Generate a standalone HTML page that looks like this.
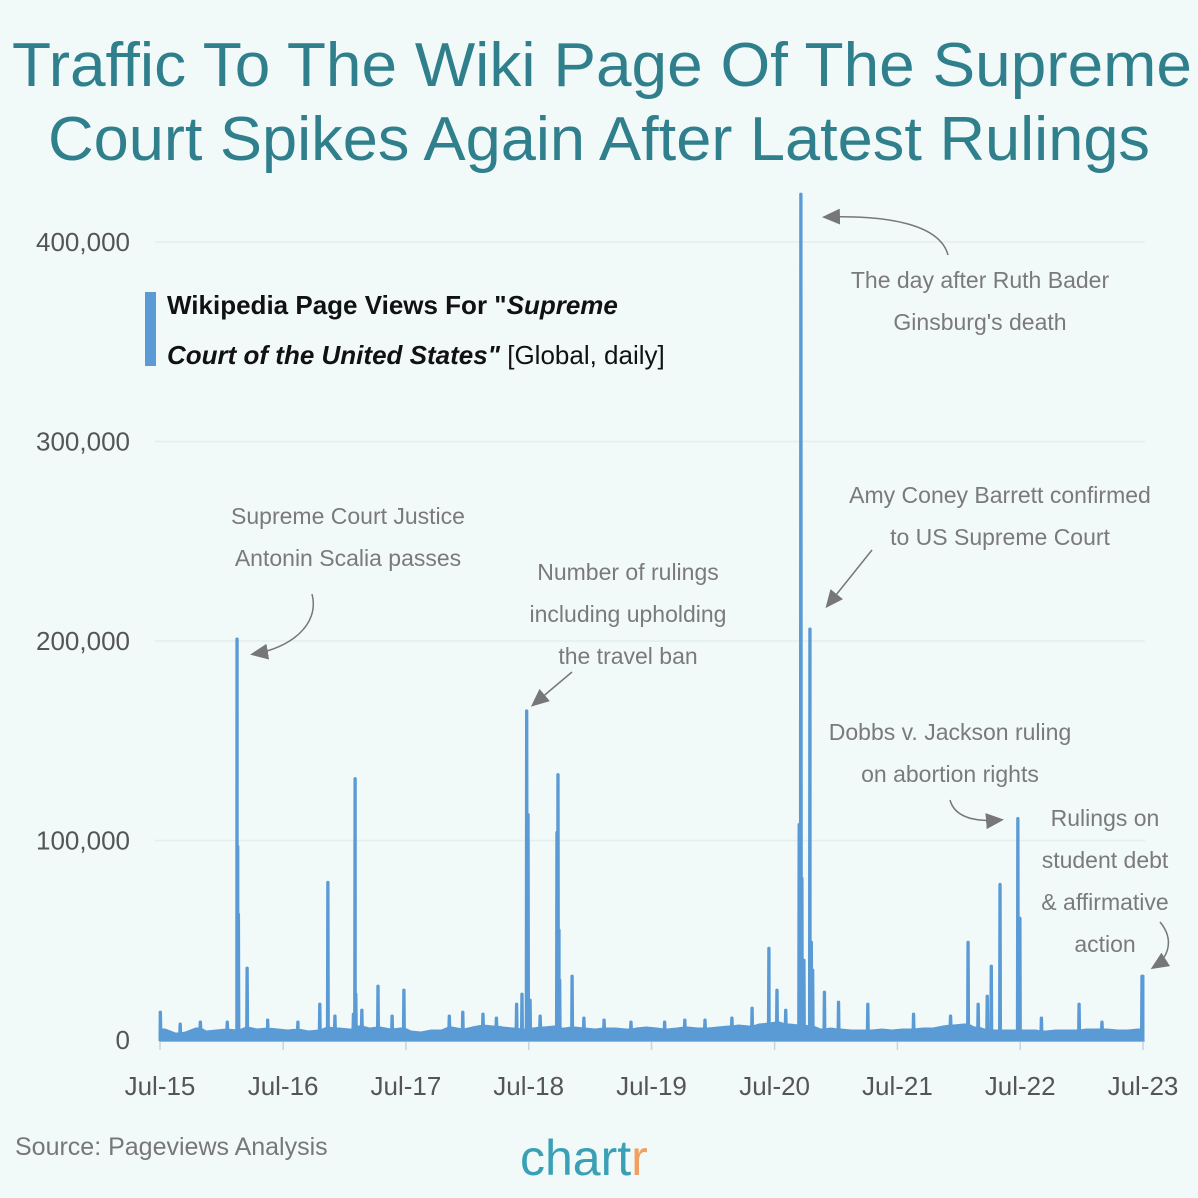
<!DOCTYPE html>
<html><head><meta charset="utf-8"><style>
html,body{margin:0;padding:0;background:#f2faf9;}
svg{display:block;font-family:"Liberation Sans",sans-serif;}
.ann{fill:#7a7a7a;font-size:23px;text-anchor:middle;}
.tick{fill:#555;font-size:26px;}
</style></head><body>
<svg id="chart" width="1198" height="1198" viewBox="0 0 1198 1198" xmlns="http://www.w3.org/2000/svg">
<defs>
<marker id="ah2" markerWidth="18" markerHeight="16" refX="14" refY="8" orient="auto" markerUnits="userSpaceOnUse"><path d="M0,0 L18,8 L0,16 z" fill="#777"/></marker></defs>
<rect x="0" y="0" width="1198" height="1198" fill="#f2faf9"/>
<text x="12" y="86" font-size="62" fill="#2f7f8c" textLength="1180" lengthAdjust="spacingAndGlyphs">Traffic To The Wiki Page Of The Supreme</text>
<text x="48" y="160" font-size="62" fill="#2f7f8c" textLength="1102" lengthAdjust="spacingAndGlyphs">Court Spikes Again After Latest Rulings</text>
<g id="grid"></g>
<g id="yticks"></g>
<g id="xticks"></g>
<g id="series"></g>
<rect x="145" y="292" width="11" height="74" fill="#5b9bd5"/>
<text x="167" y="314" font-size="26" font-weight="bold" fill="#111">Wikipedia Page Views For "<tspan font-style="italic">Supreme</tspan></text>
<text x="167" y="364" font-size="26" fill="#111"><tspan font-weight="bold" font-style="italic">Court of the United States"</tspan> [Global, daily]</text>
<g>
<text class="ann" x="980" y="288">The day after Ruth Bader</text>
<text class="ann" x="980" y="330">Ginsburg's death</text>
<path d="M948,255 C940,225 890,215 826,217" fill="none" stroke="#777" stroke-width="1.5" marker-end="url(#ah2)"/></g>
<g>
<text class="ann" x="348" y="524">Supreme Court Justice</text>
<text class="ann" x="348" y="566">Antonin Scalia passes</text>
<path d="M312,594 C320,625 290,648 254,654" fill="none" stroke="#777" stroke-width="1.5" marker-end="url(#ah2)"/></g>
<g>
<text class="ann" x="628" y="580">Number of rulings</text>
<text class="ann" x="628" y="622">including upholding</text>
<text class="ann" x="628" y="664">the travel ban</text>
<path d="M572,672 L534,704" fill="none" stroke="#777" stroke-width="1.5" marker-end="url(#ah2)"/></g>
<g>
<text class="ann" x="1000" y="503">Amy Coney Barrett confirmed</text>
<text class="ann" x="1000" y="545">to US Supreme Court</text>
<path d="M872,550 L828,605" fill="none" stroke="#777" stroke-width="1.5" marker-end="url(#ah2)"/></g>
<g>
<text class="ann" x="950" y="740">Dobbs v. Jackson ruling</text>
<text class="ann" x="950" y="782">on abortion rights</text>
<path d="M950,800 C955,818 975,822 1000,820" fill="none" stroke="#777" stroke-width="1.5" marker-end="url(#ah2)"/></g>
<g>
<text class="ann" x="1105" y="826">Rulings on</text>
<text class="ann" x="1105" y="868">student debt</text>
<text class="ann" x="1105" y="910">&amp; affirmative</text>
<text class="ann" x="1105" y="952">action</text>
<path d="M1160,922 C1175,940 1168,958 1154,967" fill="none" stroke="#777" stroke-width="1.5" marker-end="url(#ah2)"/></g>
<text x="15" y="1155" font-size="25" fill="#777">Source: Pageviews Analysis</text>
<text x="520" y="1175" font-size="50" fill="#3aa0b5">chart<tspan fill="#f0a060">r</tspan></text>
<script>
const yTicks=[0,100000,200000,300000,400000];
const yTickLabels=["0","100,000","200,000","300,000","400,000"];
const xTickDays=[0,366,731,1096,1461,1827,2192,2557,2922];
const xTickLabels=["Jul-15","Jul-16","Jul-17","Jul-18","Jul-19","Jul-20","Jul-21","Jul-22","Jul-23"];
// monthly baseline (views/day), Jul-15 .. Jul-23
const baselineValues=[5000,3000,3500,5500,4000,4500,5000,4500,6000,5000,5500,5000,4500,5000,4000,4500,6000,5500,5000,6500,5500,6000,5000,5500,4000,3500,4500,4500,6000,5000,6000,7000,6500,6000,5500,5000,5500,6000,6500,5500,6000,5500,5000,5500,5500,5000,5500,6000,5500,5000,5500,6000,5500,5500,6000,6500,7000,6500,7500,8000,8500,7500,7000,6500,5000,5500,5000,4500,4500,4500,5000,4500,5000,5000,5500,5500,6500,7000,7500,6000,5000,4500,4500,4500,4500,4500,4000,4500,4500,4500,5000,5000,5000,4500,4500,5000,5000];
const spikeDays=[1,60,120,200,229,231,233,259,320,410,475,499,520,575,580,582,600,648,690,725,860,900,960,1000,1060,1076,1090,1094,1100,1130,1180,1183,1186,1188,1225,1260,1320,1400,1500,1560,1620,1700,1760,1810,1834,1860,1900,1905,1908,1914,1932,1936,1940,1975,2017,2104,2240,2350,2402,2432,2459,2471,2497,2550,2556,2620,2732,2800,2919];
const spikeValues=[14000,8000,9000,9000,201000,97000,63000,36000,10000,9000,18000,79000,12000,13000,131000,23000,15000,27000,12000,25000,12000,14000,13000,11000,18000,23000,165000,113000,20000,12000,104000,133000,55000,30000,32000,11000,10000,9000,9000,10000,10000,11000,16000,46000,25000,15000,108000,424000,81000,40000,206000,49000,35000,24000,19000,18000,13000,12000,49000,18000,22000,37000,78000,111000,61000,11000,18000,9000,32000];
const X0=160,X1=1143,Y0=1040,Y400=242,NS="http://www.w3.org/2000/svg";
const xS=d=>X0+(X1-X0)*d/2922;
const yS=v=>Y0-(Y0-Y400)*v/400000;
const grid=document.getElementById('grid'),yt=document.getElementById('yticks'),xt=document.getElementById('xticks'),ser=document.getElementById('series');
yTicks.forEach((v,i)=>{
 if(v>0){const l=document.createElementNS(NS,'line');
 
 
 l.setAttribute('x1',155);l.setAttribute('x2',1145);l.setAttribute('y1',yS(v));l.setAttribute('y2',yS(v));l.setAttribute('stroke','#e3eeee');l.setAttribute('stroke-width','1.5');grid.appendChild(l);}
 const t=document.createElementNS(NS,'text');
 
 
 t.setAttribute('class','tick');t.setAttribute('x',130);t.setAttribute('y',yS(v)+9);t.setAttribute('text-anchor','end');t.textContent=yTickLabels[i];yt.appendChild(t);
});
const ax=document.createElementNS(NS,'line');


ax.setAttribute('x1',160);ax.setAttribute('x2',1145);ax.setAttribute('y1',1041);ax.setAttribute('y2',1041);ax.setAttribute('stroke','#c4d4e0');ax.setAttribute('stroke-width','2');xt.appendChild(ax);
xTickDays.forEach((d,i)=>{
 const l=document.createElementNS(NS,'line');
 
 
 l.setAttribute('x1',xS(d));l.setAttribute('x2',xS(d));l.setAttribute('y1',1041);l.setAttribute('y2',1050);l.setAttribute('stroke','#c4d4e0');l.setAttribute('stroke-width','1.5');xt.appendChild(l);
 const t=document.createElementNS(NS,'text');
 
 
 t.setAttribute('class','tick');t.setAttribute('x',xS(d));t.setAttribute('y',1095);t.setAttribute('text-anchor','middle');t.textContent=xTickLabels[i];xt.appendChild(t);
});
let pts=[];
baselineValues.forEach((v,i)=>pts.push([i*30.44+15,v]));
const bAt=d=>{const i=Math.max(0,Math.min(baselineValues.length-1,Math.round((d-15)/30.44)));return baselineValues[i];};
spikeDays.forEach((d,i)=>{pts.push([d-1.5,bAt(d)]);pts.push([d-0.5,spikeValues[i]]);pts.push([d+0.5,spikeValues[i]]);pts.push([d+1.5,bAt(d)]);});
pts=pts.filter(p=>p[0]>=0&&p[0]<=2922);
pts.sort((a,b)=>a[0]-b[0]);
let dd='M'+xS(0)+','+Y0;
pts.forEach(p=>{dd+=' L'+xS(p[0]).toFixed(2)+','+yS(p[1]).toFixed(2);});
dd+=' L'+xS(2922)+','+yS(32000)+' L'+xS(2922)+','+Y0+' Z';
const a=document.createElementNS(NS,'path');


a.setAttribute('d',dd);a.setAttribute('fill','#5b9bd5');a.setAttribute('stroke','#5b9bd5');a.setAttribute('stroke-width','3');a.setAttribute('stroke-linejoin','round');ser.appendChild(a);
</script>
</svg>
</body></html>
